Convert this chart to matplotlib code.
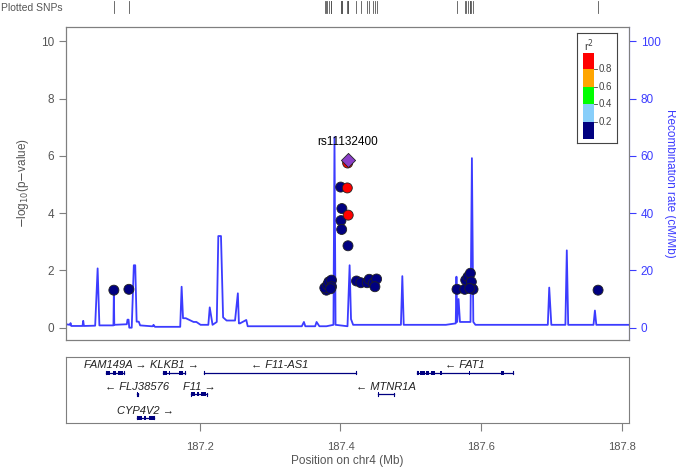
import matplotlib
matplotlib.use("Agg")
import matplotlib.pyplot as plt
import numpy as np
from matplotlib.patches import Rectangle

plt.rcParams['font.family'] = ['Liberation Sans', 'DejaVu Sans']

# ---------------- data ----------------
snp_pos = [187.0776, 187.0990,
           187.4003, 187.4097, 187.4020, 187.4110, 187.4007, 187.4017, 187.4107, 187.4102,
           187.3800, 187.3777, 187.3815, 187.3835, 187.3872, 187.3872, 187.3860,
           187.4228, 187.4290, 187.4380, 187.4409, 187.4466, 187.4514, 187.4490,
           187.5658, 187.5768, 187.5782, 187.5815, 187.5848, 187.5862, 187.5886, 187.5839,
           187.7665]
snp_logp = [1.31, 1.34,
            4.91, 4.88, 4.16, 3.93, 3.74, 3.43, 2.86, 5.75,
            1.31, 1.39, 1.49, 1.60, 1.66, 1.43, 1.36,
            1.63, 1.57, 1.57, 1.69, 1.55, 1.70, 1.43,
            1.34, 1.34, 1.66, 1.78, 1.90, 1.60, 1.34, 1.37,
            1.31]
snp_r2 = [0.1, 0.1,
          0.1, 0.9, 0.1, 0.9, 0.1, 0.1, 0.1, 0.9,
          0.1, 0.1, 0.1, 0.1, 0.1, 0.1, 0.1,
          0.1, 0.1, 0.1, 0.1, 0.1, 0.1, 0.1,
          0.1, 0.1, 0.1, 0.1, 0.1, 0.1, 0.1, 0.1,
          0.1]
lead_name = "rs11132400"
lead_pos = 187.4102
lead_logp = 5.87

recomb_pos = [187.0095, 187.0150, 187.0160, 187.0170, 187.0330, 187.0340, 187.0350,
              187.0510, 187.0545, 187.0570, 187.0610,
              187.0770, 187.0776, 187.0782, 187.0960, 187.0970, 187.0985, 187.0995,
              187.1030, 187.1060, 187.1080, 187.1100, 187.1130, 187.1150, 187.1310,
              187.1330, 187.1340, 187.1360, 187.1720, 187.1740, 187.1760, 187.1800,
              187.1910, 187.1950, 187.2010, 187.2120, 187.2140, 187.2180, 187.2240,
              187.2262, 187.2300, 187.2330, 187.2380, 187.2500, 187.2540, 187.2555,
              187.2570, 187.2660, 187.2680, 187.2700, 187.3000, 187.3450, 187.3480,
              187.3500, 187.3640, 187.3660, 187.3700, 187.3800, 187.3900, 187.3915,
              187.3930, 187.4100, 187.4130, 187.4150, 187.4180, 187.4300, 187.4700,
              187.4860, 187.4880, 187.4900, 187.5500, 187.5640, 187.5650, 187.5660,
              187.5680, 187.5700, 187.5850, 187.5870, 187.5890, 187.5920, 187.6500,
              187.6800, 187.6950, 187.6970, 187.7000, 187.7200, 187.7220, 187.7240,
              187.7600, 187.7620, 187.7640, 187.7700, 187.8105]
recomb_rate = [1.2, 1.0, 1.6, 0.6, 0.6, 2.4, 0.6,
               0.7, 20.7, 0.8, 0.8,
               0.8, 13.0, 1.0, 1.2, 2.8, 2.8, 0.0,
               0.0, 21.8, 21.8, 2.1, 2.1, 0.8, 0.5,
               0.5, 1.0, 0.3, 0.3, 14.3, 3.3, 3.3,
               2.0, 2.0, 1.0, 1.0, 7.1, 1.0, 2.0,
               32.0, 32.0, 3.6, 2.5, 2.5, 12.0, 1.5,
               1.5, 2.7, 0.5, 0.5, 0.5, 0.5, 2.0,
               0.5, 0.5, 2.0, 0.5, 0.5, 1.0, 66.5,
               1.0, 0.5, 21.8, 3.0, 1.0, 1.0, 1.0,
               1.0, 18.0, 1.0, 1.0, 1.5, 17.8, 2.0,
               10.0, 2.0, 2.0, 59.2, 2.0, 1.0, 1.0,
               1.0, 1.0, 14.0, 1.0, 1.0, 27.0, 1.0,
               1.0, 6.0, 1.0, 1.0, 1.0]

gene_names = ["FAM149A", "KLKB1", "F11-AS1", "FLJ38576", "F11", "CYP4V2", "FAT1", "MTNR1A"]
gene_start = [187.0658, 187.1478, 187.2057, 187.1100, 187.1872, 187.1107, 187.5085, 187.4538]
gene_end = [187.0922, 187.1786, 187.4221, 187.1114, 187.2104, 187.1345, 187.6451, 187.4766]
gene_strand = ["+", "+", "-", "-", "+", "+", "-", "-"]
gene_row = [0, 0, 0, 1, 1, 2, 0, 1]
gene_exons = [
    [(187.0658, 187.0720), (187.0760, 187.0800), (187.0830, 187.0900)],
    [(187.1478, 187.1530), (187.1560, 187.1580), (187.1700, 187.1760)],
    [(187.2057, 187.2075)],
    [(187.1100, 187.1114)],
    [(187.1872, 187.1930), (187.1960, 187.1990), (187.2020, 187.2090)],
    [(187.1107, 187.1170), (187.1200, 187.1240), (187.1280, 187.1345)],
    [(187.5090, 187.5120), (187.5130, 187.5200), (187.5210, 187.5260),
     (187.5290, 187.5340), (187.5420, 187.5440), (187.5830, 187.5840),
     (187.6290, 187.6320)],
    [(187.4538, 187.4545), (187.4759, 187.4766)],
]

snp_rug = snp_pos

x_ticks = [187.2, 187.4, 187.6, 187.8]
y_ticks = [0, 2, 4, 6, 8, 10]
r_ticks = [0, 20, 40, 60, 80, 100]

# ---------------- figure ----------------
W, H = 676, 469
fig = plt.figure(figsize=(W / 100, H / 100), dpi=100)


def rect(l, t, r, b):
    return [l / W, 1 - b / H, (r - l) / W, (b - t) / H]


GREY = '#7f7f7f'
TXT = '#555555'
BLUE = '#3c3cff'

xlim = (187.0095, 187.8105)

ax = fig.add_axes(rect(66, 26.7, 629, 340))
ax.set_xlim(*xlim)
ax.set_ylim(-0.43, 10.51)

ax2 = ax.twinx()
ax2.set_ylim(-4.3, 105.1)
ax2.plot(recomb_pos, recomb_rate, color=BLUE, lw=1.3, zorder=1)
ax.set_zorder(ax2.get_zorder() + 1)
ax.patch.set_visible(False)

cmap_colors = {0.1: '#000080', 0.3: '#87CEFA', 0.5: '#00FF00', 0.7: '#FFA500', 0.9: '#FF0000'}
cols = [cmap_colors[min(cmap_colors, key=lambda k: abs(k - r))] for r in snp_r2]
order = np.argsort([r for r in snp_r2], kind='stable')
ax.scatter(np.array(snp_pos)[order], np.array(snp_logp)[order], s=52,
           c=np.array(cols)[order], edgecolors='#222222', linewidths=0.6, zorder=3)
ax.scatter([lead_pos], [lead_logp], s=52, marker='D', c='#8a3fc8',
           edgecolors='#222222', linewidths=0.6, zorder=4)
ax.text(lead_pos, lead_logp + 0.4, lead_name, ha='center', va='bottom', fontsize=8.5,
        color='black', zorder=5)

for a in (ax, ax2):
    for s in a.spines.values():
        s.set_color(GREY)
        s.set_linewidth(0.8)
ax2.spines['right'].set_color(BLUE)

ax.set_xticks([])
ax.set_yticks(y_ticks)
ax.tick_params(axis='y', colors=GREY, labelcolor=TXT, labelsize=8.5, length=5, width=0.8)
fig.text(23.5 / W, 1 - 183.4 / H, r'$-$log$_{10}$(p$-$value)', color=TXT, fontsize=8.5,
         rotation=90, ha='center', va='center')

ax2.set_yticks(r_ticks)
ax2.tick_params(axis='y', colors=BLUE, labelcolor=BLUE, labelsize=8.5, length=5, width=0.8)
fig.text(670.5 / W, 1 - 183.4 / H, 'Recombination rate (cM/Mb)', color=BLUE, fontsize=8.5,
         rotation=270, ha='center', va='center')

# legend box (r2)
lax = fig.add_axes(rect(576.7, 33.3, 617.3, 143.3))
lax.set_xlim(576.7, 617.3)
lax.set_ylim(143.3, 33.3)
lax.set_xticks([])
lax.set_yticks([])
for s in lax.spines.values():
    s.set_color('#444444')
    s.set_linewidth(0.8)
leg_cols = ['#FF0000', '#FFA500', '#00FF00', '#87CEFA', '#000080']
leg_edges = [52.7, 69.3, 86.7, 104.0, 121.7, 139.3]
for i, c in enumerate(leg_cols):
    lax.add_patch(Rectangle((582.7, leg_edges[i]), 11.3, leg_edges[i + 1] - leg_edges[i],
                            facecolor=c, edgecolor='none'))
for i, lab in enumerate(['0.8', '0.6', '0.4', '0.2']):
    y = leg_edges[i + 1]
    lax.plot([594, 597], [y, y], color='#444444', lw=0.6)
    lax.text(598.5, y, lab, fontsize=7, color='#444444', va='center', ha='left')
lax.text(588.5, 45.5, r'r$^2$', fontsize=8, color='#444444', ha='center', va='center')

# gene panel
gax = fig.add_axes(rect(66, 356.7, 629, 423))
gax.set_xlim(*xlim)
gax.set_ylim(66.3, 0)
for s in gax.spines.values():
    s.set_color(GREY)
    s.set_linewidth(0.8)
gax.set_yticks([])
gax.set_xticks(x_ticks)
gax.set_xticklabels([f'{t:.1f}' for t in x_ticks])
gax.tick_params(axis='x', colors=GREY, labelcolor=TXT, labelsize=8, length=6, width=0.8, pad=8)
gax.set_xlabel('Position on chr4 (Mb)', color=TXT, fontsize=8.5, labelpad=2)
GENE = '#000080'
row_line = [16.0, 37.5, 61.0]
row_lab = [8.3, 30.0, 54.0]
for name, s0, e0, st, row, ex in zip(gene_names, gene_start, gene_end, gene_strand, gene_row, gene_exons):
    y = row_line[row]
    gax.plot([s0, e0], [y, y], color=GENE, lw=0.9)
    gax.plot([s0, s0], [y - 1.6, y + 1.6], color=GENE, lw=0.8)
    gax.plot([e0, e0], [y - 1.6, y + 1.6], color=GENE, lw=0.8)
    for a0, a1 in ex:
        gax.add_patch(Rectangle((a0, y - 1.8), a1 - a0, 3.6, facecolor=GENE, edgecolor='none'))
    label = (name + ' \u2192') if st == '+' else ('\u2190 ' + name)
    gax.text((s0 + e0) / 2, row_lab[row], label, style='italic', fontsize=8, color='#222222',
             ha='center', va='center')

# plotted SNPs rug
rax = fig.add_axes(rect(66, 0, 629, 14))
rax.set_xlim(*xlim)
rax.set_ylim(0, 1)
rax.axis('off')
for p in snp_rug:
    rax.plot([p, p], [0.05, 0.95], color='#555555', lw=0.6)
fig.text(1 / W, 1 - 8 / H, 'Plotted SNPs', fontsize=7.5, color=TXT, ha='left', va='center')

fig.savefig('out.png', dpi=100)
